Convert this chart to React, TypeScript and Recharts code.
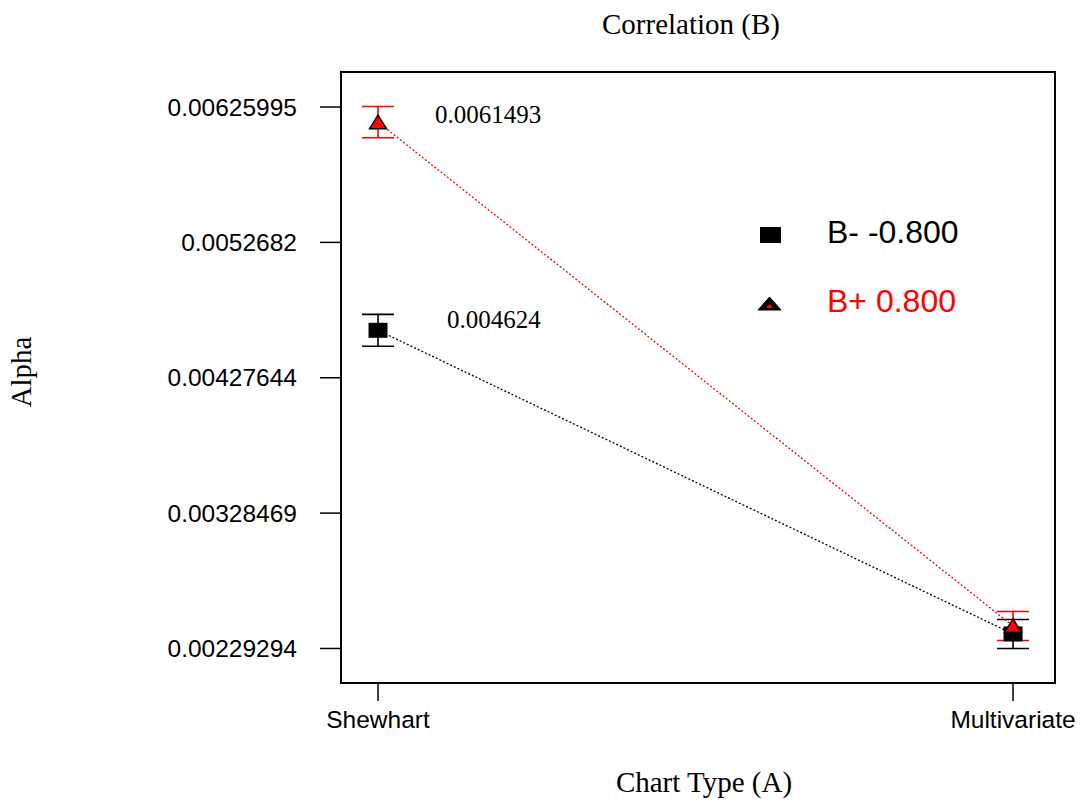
import {
  ErrorBar,
  Label,
  LabelList,
  Legend,
  Line,
  LineChart,
  ReferenceArea,
  XAxis,
  YAxis,
} from "recharts";

const chartTypes = ["Shewhart", "Multivariate"];
const lowAlpha = [0.004624, 0.0023993];
const highAlpha = [0.0061493, 0.0024579];
const lowErr = [0.000117, 0.000106];
const highErr = [0.000114, 0.000106];
const alphaTicks = [0.00229294, 0.00328469, 0.00427644, 0.0052682, 0.00625995];
const alphaDomain = [0.00204, 0.0065166];
const typeDomain = [-0.0583, 1.0661];
const seriesNames = ["B- -0.800", "B+ 0.800"];

const data = chartTypes.map((chart, i) => ({
  pos: i,
  chart,
  low: lowAlpha[i],
  lowErr: lowErr[i],
  high: highAlpha[i],
  highErr: highErr[i],
}));

const serif = "'Liberation Serif', 'Times New Roman', serif";
const sans = "'Liberation Sans', Arial, sans-serif";

const SquareDot = (props: any) => {
  const { cx, cy } = props;
  if (cx == null || cy == null) return null;
  return <rect key={props.key} x={cx - 9.5} y={cy - 7.5} width={19} height={15} fill="#000" />;
};

const TriangleDot = (props: any) => {
  const { cx, cy } = props;
  if (cx == null || cy == null) return null;
  return (
    <polygon
      key={props.key}
      points={`${cx - 8.5},${cy + 6.5} ${cx + 8.5},${cy + 6.5} ${cx},${cy - 7}`}
      fill="#ff0000"
      stroke="#000"
      strokeWidth={1.5}
    />
  );
};

// only the Shewhart point gets its value written next to it
const valueLabel = (dx: number, dy: number) => (props: any) => {
  const { x, y, value, index } = props;
  if (index !== 0) return null;
  return (
    <text x={x + dx} y={y + dy} fontFamily={serif} fontSize={25} fill="#000">
      {value}
    </text>
  );
};

const LegendBox = () => (
  <svg width={240} height={115}>
    <rect x={5} y={17} width={21} height={16} fill="#000" />
    <text x={72} y={33} fontFamily={sans} fontSize={32} fill="#000">
      {seriesNames[0]}
    </text>
    <polygon points="3,100 26,100 14.5,87" fill="#000" stroke="#000" strokeWidth={1} strokeLinejoin="round" />
    <polygon points="11,98 18,98 14.5,94" fill="#ff0000" />
    <text x={72} y={102} fontFamily={sans} fontSize={32} fill="#ff0000">
      {seriesNames[1]}
    </text>
  </svg>
);

const App = () => {
  return (
    <div style={{ position: "absolute", left: 0, top: 0, background: "#fff" }}>
      <LineChart
        width={1081}
        height={805}
        data={data}
        margin={{ top: 72, right: 26, left: 0, bottom: 0 }}
      >
        <XAxis
          dataKey="pos"
          type="number"
          domain={typeDomain}
          ticks={[0, 1]}
          allowDataOverflow
          tickFormatter={(v: number) => chartTypes[v] ?? ""}
          height={122}
          axisLine={{ stroke: "#000", strokeWidth: 2 }}
          tickLine={{ stroke: "#000", strokeWidth: 1.5 }}
          tickSize={18}
          tickMargin={10}
          tick={{ fill: "#000", fontSize: 24.5, fontFamily: sans }}
        >
          <Label
            content={() => (
              <text x={704} y={792} textAnchor="middle" fontFamily={serif} fontSize={29} fill="#000">
                Chart Type (A)
              </text>
            )}
          />
        </XAxis>
        <YAxis
          type="number"
          width={341}
          domain={alphaDomain}
          ticks={alphaTicks}
          allowDataOverflow
          tickFormatter={(v: number) => String(v)}
          axisLine={{ stroke: "#000", strokeWidth: 2 }}
          tickLine={{ stroke: "#000", strokeWidth: 1.5 }}
          tickSize={21}
          tickMargin={23}
          tick={{ fill: "#000", fontSize: 24.5, fontFamily: sans }}
        >
          <Label
            content={() => (
              <g>
                <text
                  transform="translate(31,372) rotate(-90)"
                  textAnchor="middle"
                  fontFamily={serif}
                  fontSize={29}
                  fill="#000"
                >
                  Alpha
                </text>
                <text x={691} y={34} textAnchor="middle" fontFamily={serif} fontSize={29} fill="#000">
                  Correlation (B)
                </text>
              </g>
            )}
          />
        </YAxis>
        <ReferenceArea
          x1={typeDomain[0]}
          x2={typeDomain[1]}
          y1={alphaDomain[0]}
          y2={alphaDomain[1]}
          fill="none"
          fillOpacity={0}
          stroke="#000"
          strokeWidth={2}
          ifOverflow="visible"
        />
        <Legend
          layout="vertical"
          align="center"
          verticalAlign="middle"
          content={() => <LegendBox />}
          wrapperStyle={{ position: "absolute", left: 755, top: 210, width: 240, height: 115 }}
        />
        <Line
          name={seriesNames[0]}
          dataKey="low"
          stroke="#000"
          strokeWidth={1.3}
          strokeDasharray="2 2"
          dot={SquareDot}
          activeDot={false}
          isAnimationActive={false}
        >
          <ErrorBar dataKey="lowErr" direction="y" width={16} stroke="#000" strokeWidth={1.6} />
          <LabelList dataKey="low" content={valueLabel(69, -2)} />
        </Line>
        <Line
          name={seriesNames[1]}
          dataKey="high"
          stroke="#ff0000"
          strokeWidth={1.3}
          strokeDasharray="2 2"
          dot={TriangleDot}
          activeDot={false}
          isAnimationActive={false}
        >
          <ErrorBar dataKey="highErr" direction="y" width={16} stroke="#ff0000" strokeWidth={1.6} />
          <LabelList dataKey="high" content={valueLabel(57, 1)} />
        </Line>
      </LineChart>
    </div>
  );
};

export default App;
